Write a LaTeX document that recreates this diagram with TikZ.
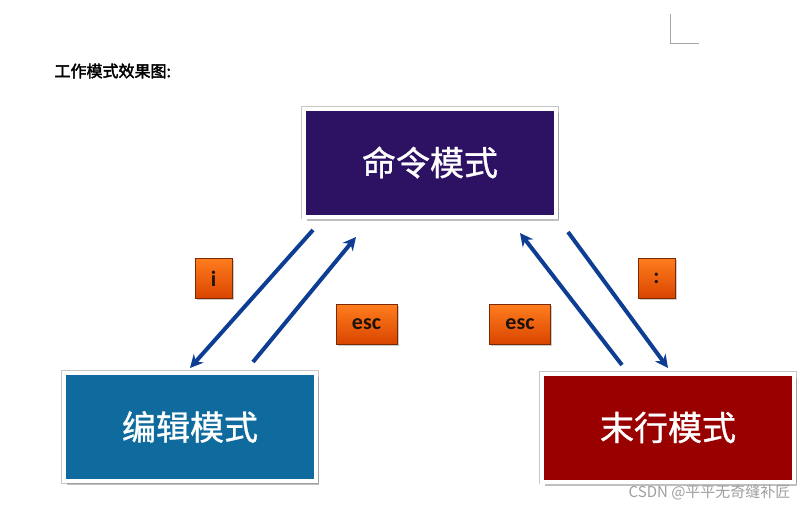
\documentclass[tikz,border=0pt]{standalone}
\usepackage{fontspec}
\setmainfont{Carlito}
\newfontfamily\cjk{Noto Sans CJK SC}
\newfontfamily\cjkmed[FakeBold=1]{Noto Sans CJK SC}
\newfontfamily\cjkbold[FakeBold=2.5]{Noto Sans CJK SC}
\usetikzlibrary{arrows.meta,shadows}
\definecolor{cmdpurple}{HTML}{2D1264}
\definecolor{editblue}{HTML}{0F6B9D}
\definecolor{lastred}{HTML}{990000}
\definecolor{arrowblue}{HTML}{0D3E94}
\definecolor{keytop}{HTML}{FF7D1E}
\definecolor{keybot}{HTML}{D94400}
\definecolor{keyedge}{HTML}{7A2A00}
\tikzset{
  modebox/.style={draw=white, line width=4pt, minimum width=252pt, minimum height=108pt,
    text=white, font=\cjkmed\fontsize{34}{40}\selectfont,
    preaction={draw=gray!45, line width=5.6pt},
    drop shadow={shadow xshift=3pt, shadow yshift=-4pt, opacity=0.5, fill=gray}},
  keybox/.style={draw=keyedge, line width=0.8pt, top color=keytop, bottom color=keybot,
    minimum height=40pt, text=black!85!brown, font=\bfseries\fontsize{22}{24}\selectfont,
    drop shadow={shadow xshift=1.5pt, shadow yshift=-1.5pt, opacity=0.4}},
  modearrow/.style={draw=arrowblue, line width=4pt, -{Stealth[length=13pt,width=13pt]}}
}
\begin{document}
\begin{tikzpicture}[x=1pt,y=-1pt]
\useasboundingbox[fill=white] (0,0) rectangle (807,509);
\draw[gray!70, line width=1pt] (670,14) -- (670,43) -- (699,43);
\node[anchor=west, font=\cjkbold\fontsize{16}{18}\selectfont] (title) at (51,71) {工作模式效果图:};

\node[modebox, fill=cmdpurple] (cmd) at (430,162.5) {命令模式};
\node[modebox, fill=editblue] (edit) at (190,427) {编辑模式};
\node[modebox, fill=lastred] (last) at (668,427.5) {末行模式};

\coordinate (a1s) at (313,230); \coordinate (a1e) at (190,368);
\coordinate (a2s) at (253,362); \coordinate (a2e) at (356,237);
\coordinate (a3s) at (622,365); \coordinate (a3e) at (520,233);
\coordinate (a4s) at (568,232); \coordinate (a4e) at (668,368);
\draw[modearrow] (a1s) -- (a1e);
\draw[modearrow] (a2s) -- (a2e);
\draw[modearrow] (a3s) -- (a3e);
\draw[modearrow] (a4s) -- (a4e);

\node[keybox, minimum width=37pt] (ki) at (213.5,278.5) {i};
\node[keybox, minimum width=61pt] (kesc1) at (366.5,324.5) {esc};
\node[keybox, minimum width=61pt] (kesc2) at (520,324.5) {esc};
\node[keybox, minimum width=37pt] (kcolon) at (656.5,278.5) {:};

\node[anchor=east, text=gray!75, font=\cjk\fontsize{15}{17}\selectfont] (wm) at (794,492) {CSDN @平平无奇缝补匠};
\end{tikzpicture}
\end{document}
